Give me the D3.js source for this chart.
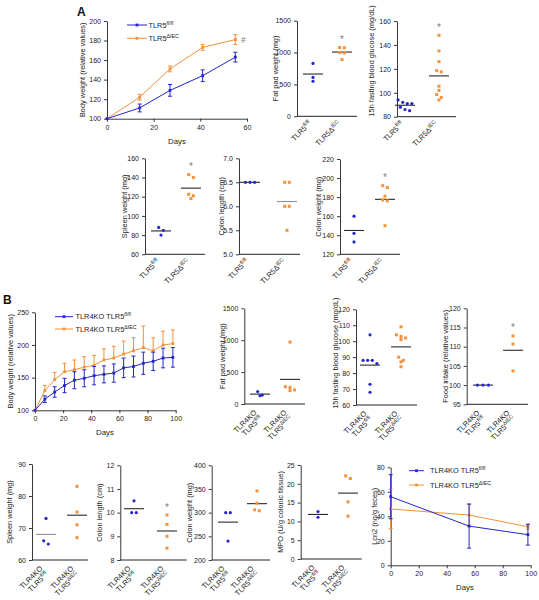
<!DOCTYPE html>
<html><head><meta charset="utf-8">
<script src="https://cdn.jsdelivr.net/npm/d3@7"></script>
<style>body{margin:0;background:#fff}svg text{font-family:Arial,"Liberation Sans",sans-serif}</style>
</head><body><svg id="c" width="539" height="600"></svg>
<script>
// ---------- DATA ----------
// Panel A body weight
const daysA = [0, 14, 27, 41, 55];
const bwA_fl = [100, 111, 129, 144, 163];
const bwA_fl_err = [0, 4, 6, 6, 5];
const bwA_dIEC = [100, 122, 151, 173, 181];
const bwA_dIEC_err = [0, 3, 3, 3, 5];
// Panel A dot plots
const fatPadA_fl = [830, 610, 550];
const fatPadA_dIEC = [1080, 1075, 1000, 995, 890];
const glucoseA_fl = [94, 92, 91, 91, 88, 86, 85];
const glucoseA_dIEC = [148, 135, 126, 118.5, 117.5, 105.5, 102, 98.5, 96, 94];
const spleenA_fl = [88, 85, 80];
const spleenA_dIEC = [143, 140, 122.5, 121, 118];
const colonLenA_fl = [6.5, 6.5, 6.5];
const colonLenA_dIEC = [6.5, 6.5, 6.0, 6.0, 5.5];
const colonWtA_fl = [160, 142, 133];
const colonWtA_dIEC = [192, 190, 181, 177, 176, 150];
// Panel B body weight
const daysB = [0, 7, 14, 21, 28, 35, 42, 49, 56, 63, 70, 77, 84, 91, 98];
const bwB_fl = [100, 117, 128, 138, 146, 149, 153, 155, 157, 165, 167, 172, 175, 180, 181];
const bwB_fl_err = [0, 5, 8, 11, 13, 13, 14, 13, 14, 15, 16, 17, 14, 15, 15];
const bwB_dIEC = [100, 130, 147, 159, 162, 166, 169, 177, 180, 186, 191, 196, 191, 200, 202];
const bwB_dIEC_err = [0, 8, 11, 13, 15, 16, 15, 17, 18, 20, 20, 33, 20, 21, 21];
// Panel B dot plots
const fatPadB_fl = [195, 140, 130];
const fatPadB_dIEC = [970, 270, 260, 220, 210];
const glucoseB_fl = [104, 88, 88, 88, 86, 73, 68];
const glucoseB_dIEC = [109, 104, 103, 102, 101, 90, 88, 87, 84];
const foodB_fl = [100, 100, 100];
const foodB_dIEC = [112.8, 110.7, 103.7];
const spleenB_fl = [73, 66, 65];
const spleenB_dIEC = [83, 75, 71, 67];
const colonLenB_fl = [10.5, 10, 10];
const colonLenB_dIEC = [9.9, 9.5, 9.0, 8.5];
const colonWtB_fl = [300, 300, 240];
const colonWtB_dIEC = [346, 320, 304, 306];
const mpoB_fl = [12.6, 11.1];
const mpoB_dIEC = [22.1, 21.4, 15.2, 11.4];
// Lcn2
const lcnDays = [0, 56, 98];
const lcn_fl = [56, 32, 25];
const lcn_fl_err = [18, 18, 8.5];
const lcn_dIEC = [46, 41, 31.5];
const lcn_dIEC_err = [16, 9, 2];

// labels
const catLabelsA = [[["TLR5"], ["fl/fl", 1]], [["TLR5Δ"], ["IEC", 1]]];
const catLabelsB = [[[["TLR4KO"]], [["TLR5"], ["fl/fl", 1]]], [[["TLR4KO"]], [["TLR5"], ["ΔIEC", 1]]]];
const legendA = [[["TLR5"], ["fl/fl", 1]], [["TLR5"], ["ΔIEC", 1]]];
const legendB = [[["TLR4KO TLR5"], ["fl/fl", 1]], [["TLR4KO TLR5"], ["ΔIEC", 1]]];

// ---------- DRAWING ----------
const svg = d3.select("#c");
const BLUE = "#2626c9", ORANGE = "#f2923c", INK = "#222", STAR = "#808080";
const FONT = 'Arial,"Liberation Sans",sans-serif';

function rich(t, parts, supSize) {
  let up = false;
  parts.forEach(([s, sup]) => {
    const ts = t.append("tspan").text(s);
    if (sup) { ts.attr("font-size", supSize || 5.3); if (!up) ts.attr("dy", -3); up = true; }
    else if (up) { ts.attr("dy", 3); up = false; }
  });
}
function styleAxis(g) {
  g.selectAll("path,line").attr("stroke", INK).attr("stroke-width", 0.9);
  g.selectAll("text").attr("font-size", 7).attr("fill", INK).attr("font-family", FONT);
}
function yTitle(text, x, yMid) {
  svg.append("text").attr("transform", `translate(${x},${yMid}) rotate(-90)`)
    .attr("text-anchor", "middle").attr("font-size", 7.4).attr("fill", INK).text(text);
}

function beeswarm(vals, y, cx, spacing) {
  const pts = vals.map(v => ({ v, py: y(v) })).sort((a, b) => a.py - b.py);
  const rows = [];
  pts.forEach(p => {
    const last = rows[rows.length - 1];
    if (last && Math.abs(p.py - last[0].py) < 3.6) last.push(p); else rows.push([p]);
  });
  rows.forEach(r => r.forEach((p, i) => { p.px = cx + (i - (r.length - 1) / 2) * spacing; }));
  return pts;
}

function dotPanel(p) {
  const y = d3.scaleLinear().domain(p.yDomain).range(p.yRange);
  const x = d3.scalePoint().domain([0, 1]).range(p.c);
  const yb = p.yRange[0];
  svg.append("g").attr("transform", `translate(${p.x0},0)`)
    .call(d3.axisLeft(y).tickValues(p.ticks).tickFormat(p.fmt || d3.format("d")).tickSize(3).tickSizeOuter(0))
    .call(styleAxis);
  svg.append("line").attr("x1", p.x0).attr("x2", p.x1).attr("y1", yb).attr("y2", yb)
    .attr("stroke", INK).attr("stroke-width", 1);
  yTitle(p.title, p.tx, (p.yRange[0] + p.yRange[1]) / 2 + (p.tShift || 0));
  p.data.forEach((vals, gi) => {
    const cx = x(gi);
    const col = gi === 0 ? BLUE : ORANGE;
    const m = d3.mean(vals);
    svg.append("line").attr("x1", cx - 10).attr("x2", cx + 10).attr("y1", y(m)).attr("y2", y(m))
      .attr("stroke", (p.grayMean && p.grayMean[gi]) ? "#8a93a3" : "#2a2a2a").attr("stroke-width", 1.1);
    const pts = beeswarm(vals, y, cx, p.spacing || 4.6);
    pts.forEach(pt => {
      if (gi === 0) svg.append("circle").attr("cx", pt.px).attr("cy", pt.py).attr("r", 1.6).attr("fill", col);
      else svg.append("rect").attr("x", pt.px - 1.5).attr("y", pt.py - 1.5).attr("width", 3).attr("height", 3).attr("fill", col);
    });
    if (gi === 1 && p.star) {
      svg.append("text").attr("x", cx).attr("y", y(d3.max(vals)) - 4.5).attr("text-anchor", "middle")
        .attr("font-size", 10).attr("fill", STAR).text("*");
    }
  });
  // category labels
  p.c.forEach((cx, gi) => {
    if (p.b) {
      catLabelsB[gi].forEach((line, li) => {
        const t = svg.append("text").attr("transform", `translate(${cx - 3},${yb + 9}) rotate(-45) translate(0,${li * 8})`)
          .attr("text-anchor", "end").attr("font-size", 7.4).attr("fill", INK);
        rich(t, line);
      });
    } else {
      const t = svg.append("text").attr("transform", `translate(${cx - 1},${yb + 7.5}) rotate(-45)`)
        .attr("text-anchor", "end").attr("font-size", 7.4).attr("fill", INK);
      rich(t, catLabelsA[gi]);
    }
  });
}

function linePanel(p) {
  const x = d3.scaleLinear().domain(p.xDomain).range(p.xRange);
  const y = d3.scaleLinear().domain(p.yDomain).range(p.yRange);
  svg.append("g").attr("transform", `translate(${p.xRange[0]},0)`)
    .call(d3.axisLeft(y).tickValues(p.yTicks).tickSize(3).tickSizeOuter(0)).call(styleAxis);
  svg.append("g").attr("transform", `translate(0,${p.yRange[0]})`)
    .call(d3.axisBottom(x).tickValues(p.xTicks).tickSize(3).tickSizeOuter(0)).call(styleAxis);
  yTitle(p.title, p.tx, (p.yRange[0] + p.yRange[1]) / 2 + (p.tShift || 0));
  svg.append("text").attr("x", p.daysPos[0]).attr("y", p.daysPos[1]).attr("text-anchor", "middle")
    .attr("font-size", 7.8).attr("fill", INK).text("Days");
  p.series.forEach(s => {
    const pts = s.x.map((d, i) => ({ d, v: s.v[i], e: s.e[i] }));
    svg.append("path").datum(pts).attr("fill", "none").attr("stroke", s.col).attr("stroke-width", 1)
      .attr("d", d3.line().x(q => x(q.d)).y(q => y(q.v)));
    pts.forEach(q => {
      if (q.e > 0) {
        const top = y(q.v + q.e), bot = s.upperOnly ? y(q.v) : y(q.v - q.e);
        svg.append("line").attr("x1", x(q.d)).attr("x2", x(q.d)).attr("y1", top).attr("y2", bot).attr("stroke", s.col).attr("stroke-width", 1);
        svg.append("line").attr("x1", x(q.d) - 2).attr("x2", x(q.d) + 2).attr("y1", top).attr("y2", top).attr("stroke", s.col).attr("stroke-width", 1);
        if (!s.upperOnly) svg.append("line").attr("x1", x(q.d) - 2).attr("x2", x(q.d) + 2).attr("y1", bot).attr("y2", bot).attr("stroke", s.col).attr("stroke-width", 1);
      }
      svg.append("rect").attr("x", x(q.d) - 1.4).attr("y", y(q.v) - 1.4).attr("width", 2.8).attr("height", 2.8).attr("fill", s.col);
    });
  });
  // legend
  p.legend.labels.forEach((lab, i) => {
    const col = i === 0 ? BLUE : ORANGE;
    const [lx1, lx2] = p.legend.line, ly = p.legend.y[i];
    svg.append("line").attr("x1", lx1).attr("x2", lx2).attr("y1", ly).attr("y2", ly).attr("stroke", col).attr("stroke-width", 1);
    svg.append("rect").attr("x", (lx1 + lx2) / 2 - 1.4).attr("y", ly - 1.4).attr("width", 2.8).attr("height", 2.8).attr("fill", col);
    const t = svg.append("text").attr("x", p.legend.tx).attr("y", ly + 2.6).attr("font-size", 7.4).attr("fill", INK);
    rich(t, lab);
  });
}

// panel letters
svg.append("text").attr("x", 77).attr("y", 16).attr("font-size", 12).attr("font-weight", "bold").attr("fill", "#111").text("A");
svg.append("text").attr("x", 3).attr("y", 304).attr("font-size", 12).attr("font-weight", "bold").attr("fill", "#111").text("B");

// ---- Panel A ----
linePanel({
  xDomain: [0, 60], xRange: [107, 247], yDomain: [100, 200], yRange: [118.7, 21],
  yTicks: d3.range(100, 201, 20), xTicks: [0, 20, 40, 60], title: "Body weight (relative values)", tx: 85,
  daysPos: [177, 144],
  series: [
    { x: daysA, v: bwA_dIEC, e: bwA_dIEC_err, col: ORANGE },
    { x: daysA, v: bwA_fl, e: bwA_fl_err, col: BLUE }
  ],
  legend: { line: [127, 147], y: [25, 38.3], tx: 148.5, labels: legendA }
});
svg.append("text").attr("x", 241).attr("y", 42.5).attr("font-size", 8.5).attr("fill", STAR).text("#");

dotPanel({ x0: 297, x1: 357, c: [313, 342], yDomain: [0, 1500], yRange: [116.3, 20.7], ticks: [0, 500, 1000, 1500],
  title: "Fat pad weight (mg)", tx: 278, data: [fatPadA_fl, fatPadA_dIEC], star: true });
dotPanel({ x0: 397, x1: 456, c: [405, 439], yDomain: [80, 160], yRange: [116.7, 21], ticks: d3.range(80, 161, 20),
  title: "15h fasting blood glucose (mg/dL)", tx: 374, tShift: -8, data: [glucoseA_fl, glucoseA_dIEC], star: true });
dotPanel({ x0: 145, x1: 205, c: [161, 191], yDomain: [60, 160], yRange: [254.3, 158.3], ticks: d3.range(60, 161, 20),
  title: "Spleen weight (mg)", tx: 126.5, data: [spleenA_fl, spleenA_dIEC], star: true });
dotPanel({ x0: 239, x1: 300, c: [250, 287], yDomain: [5, 7], yRange: [254.3, 158.3], ticks: [5, 5.5, 6, 6.5, 7], fmt: d3.format(".1f"),
  title: "Colon length (cm)", tx: 224, data: [colonLenA_fl, colonLenA_dIEC], grayMean: [false, true] });
dotPanel({ x0: 340, x1: 400, c: [354, 385], yDomain: [120, 220], yRange: [254.3, 159], ticks: d3.range(120, 221, 20),
  title: "Colon weight (mg)", tx: 320.5, data: [colonWtA_fl, colonWtA_dIEC], star: true });

// ---- Panel B ----
linePanel({
  xDomain: [0, 100], xRange: [35, 175.7], yDomain: [100, 250], yRange: [410.3, 312.3],
  yTicks: [100, 150, 200, 250], xTicks: d3.range(0, 101, 20), title: "Body weight (relative values)", tx: 12.5,
  daysPos: [105, 435],
  series: [
    { x: daysB, v: bwB_dIEC, e: bwB_dIEC_err, col: ORANGE, upperOnly: true },
    { x: daysB, v: bwB_fl, e: bwB_fl_err, col: BLUE }
  ],
  legend: { line: [55, 73], y: [316.7, 329], tx: 75.5, labels: legendB }
});
dotPanel({ b: true, x0: 244.3, x1: 305, c: [260, 290], yDomain: [0, 1500], yRange: [404, 308.3], ticks: [0, 500, 1000, 1500],
  title: "Fat pad weight (mg)", tx: 225, data: [fatPadB_fl, fatPadB_dIEC] });
dotPanel({ b: true, x0: 356, x1: 417, c: [370, 401], yDomain: [60, 120], yRange: [405, 309.3], ticks: d3.range(60, 121, 10),
  title: "15h fasting blood glucose (mg/dL)", tx: 338, tShift: -4, data: [glucoseB_fl, glucoseB_dIEC] });
dotPanel({ b: true, x0: 466.7, x1: 528, c: [483, 513], yDomain: [95, 120], yRange: [404.3, 308.3], ticks: d3.range(95, 121, 5),
  title: "Food intake (relative values)", tx: 448, data: [foodB_fl, foodB_dIEC], star: true, spacing: 5.5 });
dotPanel({ b: true, x0: 32, x1: 88, c: [46, 77], yDomain: [60, 90], yRange: [560, 464], ticks: [60, 70, 80, 90],
  title: "Spleen weight (mg)", tx: 12, data: [spleenB_fl, spleenB_dIEC], grayMean: [true, false] });
dotPanel({ b: true, x0: 120.3, x1: 186.7, c: [134, 167], yDomain: [8, 12], yRange: [560, 465.3], ticks: [8, 9, 10, 11, 12],
  title: "Colon length (cm)", tx: 101.5, data: [colonLenB_fl, colonLenB_dIEC], star: true });
dotPanel({ b: true, x0: 211.7, x1: 270, c: [228, 257], yDomain: [200, 400], yRange: [560, 465.3], ticks: d3.range(200, 401, 50),
  title: "Colon weight (mg)", tx: 192, data: [colonWtB_fl, colonWtB_dIEC] });
dotPanel({ b: true, x0: 300.7, x1: 361.7, c: [318, 348], yDomain: [0, 25], yRange: [559, 465], ticks: d3.range(0, 26, 5),
  title: "MPO (U/g colonic tissue)", tx: 283, data: [mpoB_fl, mpoB_dIEC] });

linePanel({
  xDomain: [0, 100], xRange: [390.7, 530.7], yDomain: [0, 80], yRange: [565.3, 467.3],
  yTicks: d3.range(0, 81, 20), xTicks: d3.range(0, 101, 20), title: "Lcn2 (ng/g feces)", tx: 376.5,
  daysPos: [465, 590],
  series: [
    { x: lcnDays, v: lcn_dIEC, e: lcn_dIEC_err, col: ORANGE },
    { x: lcnDays, v: lcn_fl, e: lcn_fl_err, col: BLUE }
  ],
  legend: { line: [409, 424], y: [470.7, 485], tx: 430, labels: legendB }
});
</script></body></html>
